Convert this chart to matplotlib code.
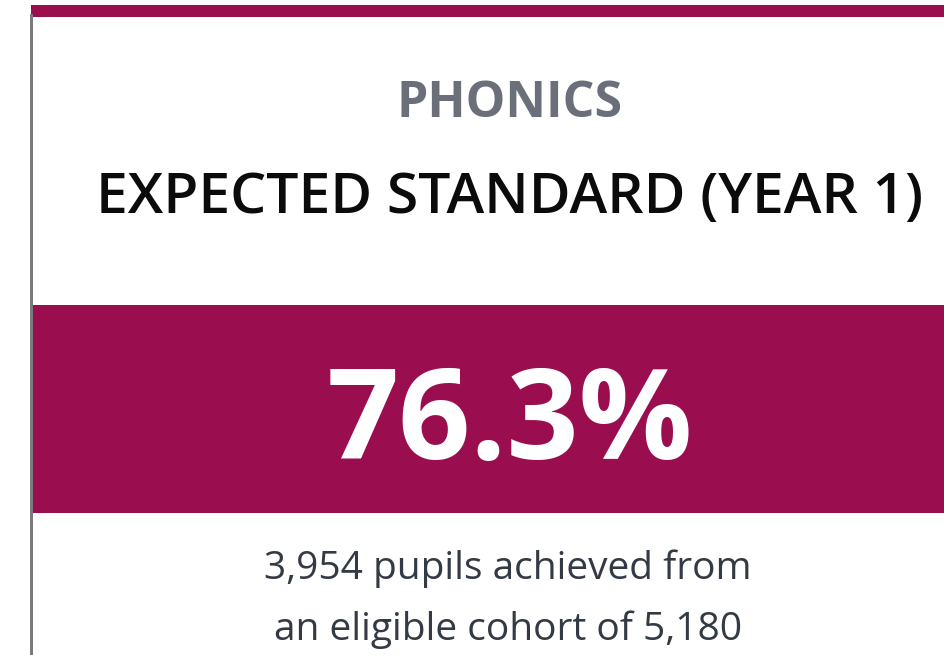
import matplotlib.pyplot as plt
from matplotlib.patches import Rectangle

# --card contents--
subject = "PHONICS"
measure = "EXPECTED STANDARD (YEAR 1)"
achieved = 3954
cohort = 5180
percent = 76.3

W, H = 944, 655
band_colour = "#9a0d4e"

fig = plt.figure(figsize=(W / 100, H / 100), dpi=100)
ax = fig.add_axes([0, 0, 1, 1])
ax.set_xlim(0, W)
ax.set_ylim(H, 0)
ax.axis("off")

# top strip, left border and the coloured band
ax.add_patch(Rectangle((31, 5), W - 31, 12, color=band_colour, lw=0))
ax.add_patch(Rectangle((29.5, 14), 3, H - 14, color="#7a7a7a", lw=0))
ax.add_patch(Rectangle((32.5, 305), W - 32.5, 208, color=band_colour, lw=0))

font = "Open Sans"
ax.text(510, 104, subject, ha="center", va="center", family=font,
        fontsize=36, weight="bold", color="#6b6f7a")
ax.text(510, 199, measure, ha="center", va="center", family=font,
        fontsize=41, weight="semibold", color="#0b0b0b")
ax.text(510, 426, f"{percent}%", ha="center", va="center", family=font,
        fontsize=91, weight="bold", color="white")
ax.text(508, 569, f"{achieved:,} pupils achieved from", ha="center",
        va="center", family=font, fontsize=28, color="#333a44")
ax.text(508, 630, f"an eligible cohort of {cohort:,}", ha="center",
        va="center", family=font, fontsize=28, color="#333a44")

fig.savefig("out.png", dpi=100)
